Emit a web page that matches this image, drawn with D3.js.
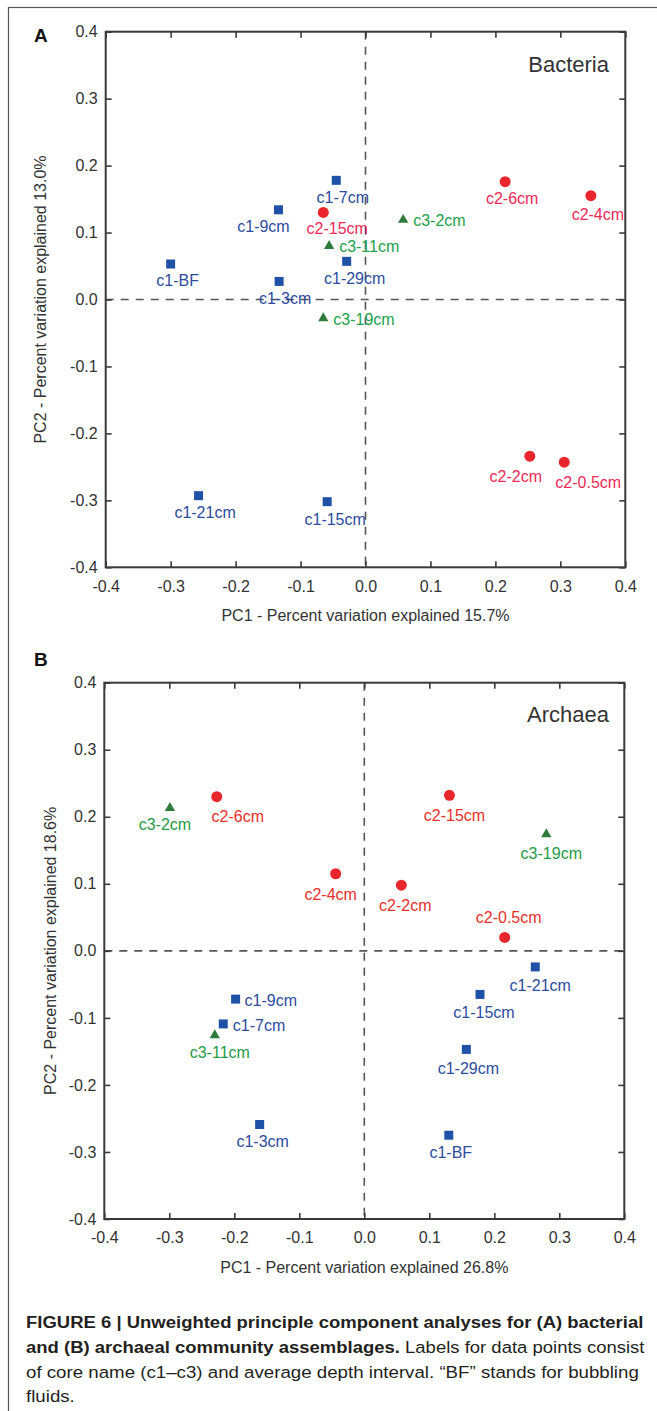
<!DOCTYPE html>
<html>
<head>
<meta charset="utf-8">
<script src="https://cdn.jsdelivr.net/npm/d3@7"></script>
<style>
  body { margin: 0; background: #fff; }
  svg text { font-family: "Liberation Sans", Arial, sans-serif; }
</style>
</head>
<body>
<div id="figure"></div>
<script>
// ---- Data ----
var axisTicks = [-0.4, -0.3, -0.2, -0.1, 0.0, 0.1, 0.2, 0.3, 0.4];

// Panel A - Bacteria
var samplesA = ["c1-7cm", "c1-9cm", "c2-15cm", "c3-2cm", "c2-6cm", "c2-4cm", "c3-11cm", "c1-BF",
                "c1-29cm", "c1-3cm", "c3-19cm", "c2-2cm", "c2-0.5cm", "c1-21cm", "c1-15cm"];
var pc1A = [-0.045, -0.134, -0.065, 0.058, 0.215, 0.347, -0.056, -0.300,
            -0.029, -0.133, -0.065, 0.253, 0.306, -0.257, -0.059];
var pc2A = [0.178, 0.134, 0.130, 0.119, 0.176, 0.155, 0.080, 0.053,
            0.057, 0.027, -0.028, -0.234, -0.243, -0.293, -0.302];

// Panel B - Archaea
var samplesB = ["c3-2cm", "c2-6cm", "c2-15cm", "c3-19cm", "c2-4cm", "c2-2cm", "c2-0.5cm", "c1-21cm",
                "c1-15cm", "c1-9cm", "c1-7cm", "c3-11cm", "c1-29cm", "c1-3cm", "c1-BF"];
var pc1B = [-0.299, -0.227, 0.131, 0.280, -0.044, 0.057, 0.216, 0.263,
            0.178, -0.198, -0.217, -0.230, 0.157, -0.161, 0.130];
var pc2B = [0.213, 0.230, 0.232, 0.174, 0.115, 0.098, 0.020, -0.024,
            -0.065, -0.072, -0.109, -0.126, -0.147, -0.259, -0.275];

var varExplainedA = ["15.7%", "13.0%"];
var varExplainedB = ["26.8%", "18.6%"];

// ---- Label placement (layout only): [dx, dy, "below"|"right"] ----
var labelPosA = [[6.5, 17, "below"], [-15, 16, "below"], [14, 16, "below"], [10, 0, "right"],
                 [7, 17, "below"], [7, 19, "below"], [10, 0, "right"], [7, 16, "below"],
                 [8, 17, "below"], [6, 17, "below"], [10, 1, "right"], [-14, 20, "below"],
                 [24, 20, "below"], [6.5, 17, "below"], [8, 18, "below"]];
var labelPosB = [[-5, 16, "below"], [21, 20, "below"], [5, 20, "below"], [5, 19, "below"],
                 [-5, 20, "below"], [4, 20, "below"], [4, -20, "below"], [5, 18, "below"],
                 [4, 18, "below"], [9, 1, "right"], [9.5, 1, "right"], [5, 17, "below"],
                 [2, 19, "below"], [3, 17, "below"], [2, 17, "below"]];

// Core styles
var coreStyle = {
  c1: { symbol: d3.symbolSquare, size: 81, fill: "#1f52a6" },
  c2: { symbol: d3.symbolCircle, size: 95, fill: "#e8262b" },
  c3: { symbol: d3.symbolTriangle, size: 46, fill: "#2f7b3c" }
};

var svgWidth = 657;
var svgHeight = 1411;

var svg = d3.select("#figure")
  .append("svg")
  .attr("width", svgWidth)
  .attr("height", svgHeight);

// Outer frame (right/bottom edges run off the page)
svg.append("rect")
  .attr("x", 8.5).attr("y", 7.5)
  .attr("width", 720).attr("height", 1500)
  .attr("fill", "none")
  .attr("stroke", "#555")
  .attr("stroke-width", 1.2);

var fmt = function(v) { return v.toFixed(1); };

function drawPanel(p) {
  var x = d3.scaleLinear().domain([-0.4, 0.4]).range([p.left, p.right]);
  var y = d3.scaleLinear().domain([-0.4, 0.4]).range([p.bottom, p.top]);
  var g = svg.append("g");

  // Zero dashed lines
  g.append("line")
    .attr("x1", x(0)).attr("x2", x(0))
    .attr("y1", p.top).attr("y2", p.bottom)
    .attr("stroke", "#555").attr("stroke-width", 1.6)
    .attr("stroke-dasharray", "8,7");
  g.append("line")
    .attr("x1", p.left).attr("x2", p.right)
    .attr("y1", y(0)).attr("y2", y(0))
    .attr("stroke", "#555").attr("stroke-width", 1.6)
    .attr("stroke-dasharray", "8,7");

  // Axes: ticks point inward on all four sides
  var bottomAxis = d3.axisBottom(x).tickValues(axisTicks).tickFormat(fmt)
    .tickSizeInner(-6).tickSizeOuter(0).tickPadding(13);
  var leftAxis = d3.axisLeft(y).tickValues(axisTicks).tickFormat(fmt)
    .tickSizeInner(-6).tickSizeOuter(0).tickPadding(8);
  var topAxis = d3.axisTop(x).tickValues(axisTicks).tickFormat("")
    .tickSizeInner(-6).tickSizeOuter(0);
  var rightAxis = d3.axisRight(y).tickValues(axisTicks).tickFormat("")
    .tickSizeInner(-6).tickSizeOuter(0);

  var axes = [
    g.append("g").attr("transform", `translate(0, ${p.bottom})`).call(bottomAxis),
    g.append("g").attr("transform", `translate(${p.left}, 0)`).call(leftAxis),
    g.append("g").attr("transform", `translate(0, ${p.top})`).call(topAxis),
    g.append("g").attr("transform", `translate(${p.right}, 0)`).call(rightAxis)
  ];
  axes.forEach(function(a) {
    a.select(".domain").remove();
    a.selectAll(".tick line").attr("stroke", "#3a3a3a").attr("stroke-width", 1.6);
    a.selectAll(".tick text")
      .attr("font-size", 16)
      .attr("font-family", "Liberation Sans, Arial, sans-serif")
      .attr("fill", "#333");
  });

  // Plot frame
  g.append("rect")
    .attr("x", p.left).attr("y", p.top)
    .attr("width", p.right - p.left).attr("height", p.bottom - p.top)
    .attr("fill", "none").attr("stroke", "#3a3a3a").attr("stroke-width", 2);

  // Points
  var data = p.names.map(function(n, i) {
    return { name: n, pc1: p.pc1[i], pc2: p.pc2[i], core: n.slice(0, 2), pos: p.labelPos[i] };
  });

  g.selectAll("path.pt")
    .data(data)
    .enter()
    .append("path")
    .attr("class", "pt")
    .attr("transform", d => `translate(${x(d.pc1)}, ${y(d.pc2)})`)
    .attr("d", d => d3.symbol().type(coreStyle[d.core].symbol).size(coreStyle[d.core].size)())
    .attr("fill", d => coreStyle[d.core].fill);

  g.selectAll("text.lbl")
    .data(data)
    .enter()
    .append("text")
    .attr("class", "lbl")
    .attr("x", d => x(d.pc1) + d.pos[0])
    .attr("y", d => y(d.pc2) + d.pos[1])
    .attr("dy", "0.36em")
    .attr("text-anchor", d => d.pos[2] == "right" ? "start" : "middle")
    .attr("font-size", 16)
    .attr("fill", d => p.labelColor[d.core])
    .text(d => d.name);

  // Panel letter, title
  svg.append("text")
    .attr("x", 34).attr("y", p.letterY)
    .attr("font-size", 19).attr("font-weight", "bold").attr("fill", "#111")
    .text(p.letter);

  svg.append("text")
    .attr("x", 609).attr("y", p.titleY)
    .attr("text-anchor", "end")
    .attr("font-size", 22).attr("fill", "#333")
    .text(p.title);

  // Axis labels
  svg.append("text")
    .attr("x", (p.left + p.right) / 2).attr("y", p.bottom + 54)
    .attr("text-anchor", "middle")
    .attr("font-size", 16).attr("fill", "#333")
    .text("PC1 - Percent variation explained " + p.varExplained[0]);

  svg.append("text")
    .attr("transform", `translate(${p.yLabelX}, ${(p.top + p.bottom) / 2}) rotate(-90)`)
    .attr("text-anchor", "middle")
    .attr("font-size", 16).attr("fill", "#333")
    .text("PC2 - Percent variation explained " + p.varExplained[1]);
}

drawPanel({
  left: 105.7, right: 625.3, top: 31.7, bottom: 567.3,
  names: samplesA, pc1: pc1A, pc2: pc2A, labelPos: labelPosA,
  labelColor: { c1: "#2c4c9e", c2: "#ee2957", c3: "#20a24c" },
  letter: "A", letterY: 42, title: "Bacteria", titleY: 72,
  varExplained: varExplainedA, yLabelX: 46
});

drawPanel({
  left: 104.3, right: 624.3, top: 682.7, bottom: 1219,
  names: samplesB, pc1: pc1B, pc2: pc2B, labelPos: labelPosB,
  labelColor: { c1: "#2c4c9e", c2: "#e8302b", c3: "#1f9a48" },
  letter: "B", letterY: 666, title: "Archaea", titleY: 722,
  varExplained: varExplainedB, yLabelX: 56
});

// ---- Caption ----
var captionLines = [
  [["FIGURE 6 | Unweighted principle component analyses for (A) bacterial", "bold"]],
  [["and (B) archaeal community assemblages.", "bold"], [" Labels for data points consist", "normal"]],
  [["of core name (c1\u2013c3) and average depth interval. \u201cBF\u201d stands for bubbling", "normal"]],
  [["fluids.", "normal"]]
];
// right edges of the justified lines; the last line keeps the previous line's squeeze
var captionRight = [644, 645, 639];

var lastScale = 1;
captionLines.forEach(function(parts, i) {
  var t = svg.append("text")
    .attr("font-size", 17)
    .attr("fill", "#231f20");
  parts.forEach(function(pt) {
    t.append("tspan").attr("font-weight", pt[1]).text(pt[0]);
  });
  var sx = lastScale;
  if (i < captionRight.length) {
    var w = t.node().getComputedTextLength();
    sx = (captionRight[i] - 26) / w;
    lastScale = sx;
  }
  t.attr("transform", `translate(26, ${1327.7 + i * 24.9}) scale(${sx}, 1)`);
});
</script>
</body>
</html>
